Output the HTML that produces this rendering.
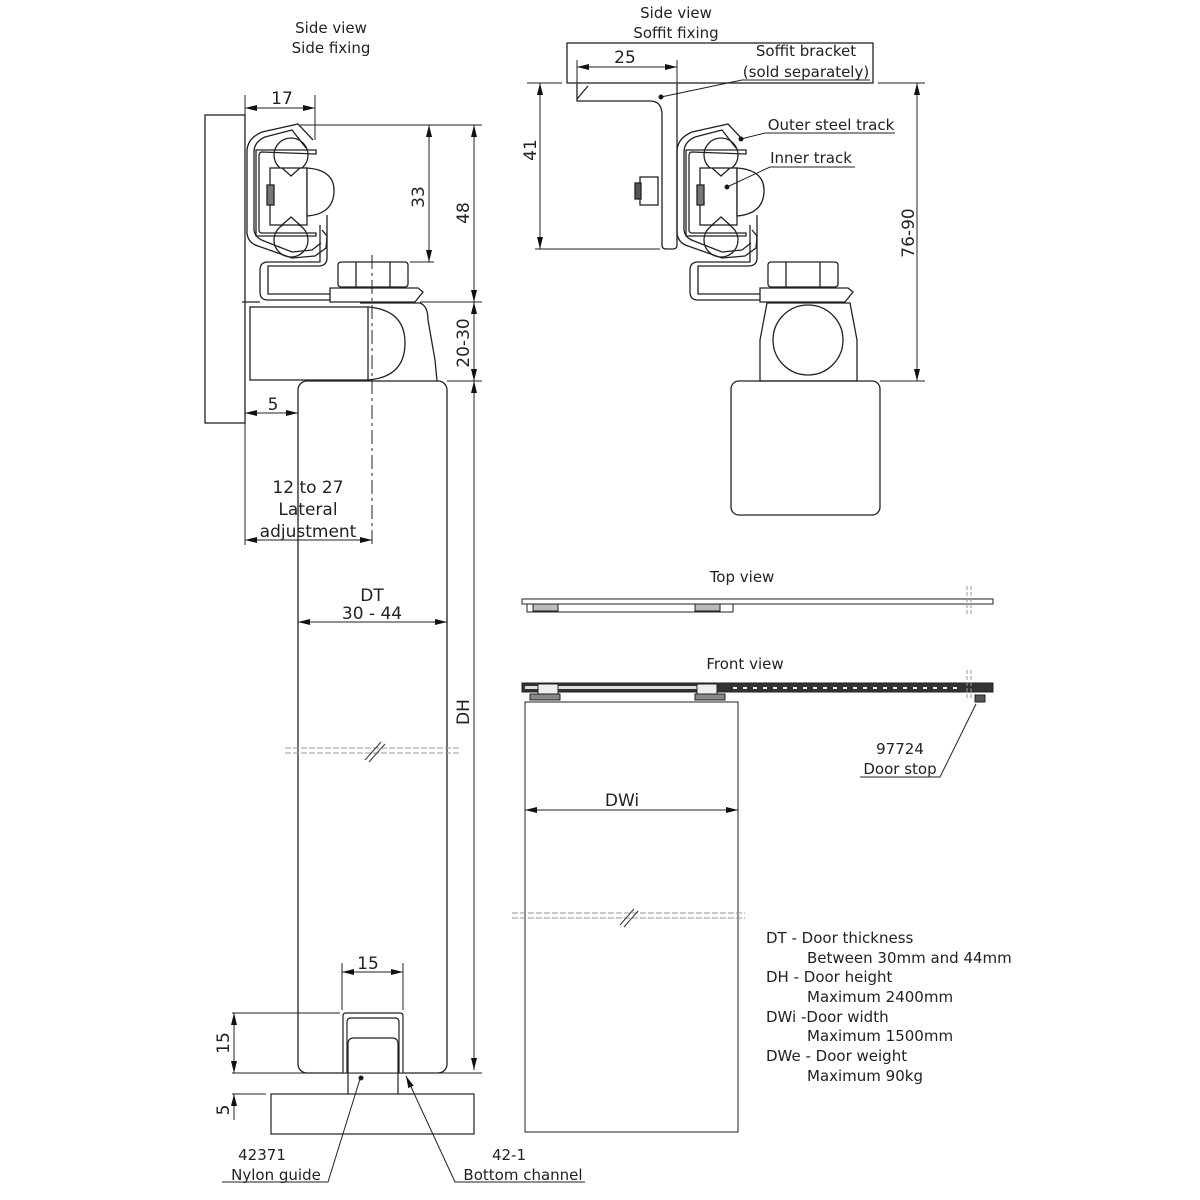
<!DOCTYPE html>
<html><head><meta charset="utf-8"><style>body{margin:0;background:#fff}svg{display:block}text{font-family:"DejaVu Sans","Liberation Sans",sans-serif;fill:#222}</style></head><body>
<svg width="1200" height="1200" viewBox="0 0 1200 1200" xmlns="http://www.w3.org/2000/svg">
<defs>
<marker id="a" viewBox="0 0 12 6" refX="12" refY="3" markerWidth="12" markerHeight="6" orient="auto-start-reverse" markerUnits="userSpaceOnUse"><path d="M0,0L12,3L0,6z" fill="#111"/></marker>
<g id="trk" fill="none" stroke="#222" stroke-width="1.3">
 <path d="M313,140 L298,124 L262,132 Q248,138 247,150 L247,233 Q248,243 258,246 L292,258 L315,256 L326,248 L327,236 L322,230"/>
 <path d="M306,148 L292,130 L265,137 Q254,142 254,152 L254,230 Q255,238 264,241 L292,252 L312,250 L321,243"/>
 <path d="M316,154 L262,152 Q259,152 259,156 L259,230 Q259,233 262,233 L316,233 L316,236 L256,236 L256,150 L316,150 Z"/>
 <circle cx="291" cy="155" r="17"/><circle cx="291" cy="240" r="17"/>
 <rect x="270" y="168" width="37" height="57" fill="#fff"/>
 <path d="M282,168 L291,176 L300,168 M282,225 L291,217 L300,225"/>
 <path d="M307,168 Q335,170 334,192 Q333,214 307,216 Z" fill="#fff"/>
 <rect x="267" y="185" width="7" height="20" fill="#777"/>
 <path d="M327,215 L327,258 Q327,266 318,266 L268,266 L268,294 L418,294 L415,300 L268,300 Q260,300 260,292 L260,270 Q260,262 268,262 L320,262 L320,225"/>
 <rect x="338" y="262" width="70" height="25" rx="3" fill="#fff"/>
 <path d="M356,262 L356,287 M390,262 L390,287"/>
 <path d="M330,288 L418,288 L423,292 L415,302 L330,302 Z" fill="#fff"/>
</g>
</defs>
<g font-size="15" text-anchor="middle">
<text x="331" y="33">Side view</text><text x="331" y="53">Side fixing</text>
<text x="676" y="18">Side view</text><text x="676" y="38">Soffit fixing</text>
</g>
<g fill="none" stroke="#222" stroke-width="1.3">
<rect x="205" y="115" width="40" height="308"/>
<line x1="245" y1="115" x2="245" y2="545" stroke-width="1"/>
<rect x="250" y="307" width="118" height="73"/>
<line x1="242" y1="302" x2="260" y2="302"/>
<path d="M368,307 Q405,310 405,343 Q405,377 368,380"/>
<path d="M360,303 L420,303 Q428,306 428,320 L435,360 L437,381"/>
<rect x="298" y="381" width="149" height="692" rx="9" fill="#fff"/>
</g>
<use href="#trk"/>
<line x1="372" y1="255" x2="372" y2="545" stroke="#222" stroke-width="1" stroke-dasharray="14,4,3,4"/>
<g stroke="#222" stroke-width="1" fill="none">
<line x1="245" y1="95" x2="245" y2="115"/><line x1="315" y1="95" x2="315" y2="140"/>
<line x1="245" y1="108" x2="315" y2="108" marker-start="url(#a)" marker-end="url(#a)"/>
<line x1="300" y1="125" x2="482" y2="125"/><line x1="410" y1="262" x2="434" y2="262"/>
<line x1="429" y1="125" x2="429" y2="262" marker-start="url(#a)" marker-end="url(#a)"/>
<line x1="420" y1="302" x2="482" y2="302"/><line x1="447" y1="381" x2="482" y2="381"/>
<line x1="474" y1="125" x2="474" y2="302" marker-start="url(#a)" marker-end="url(#a)"/>
<line x1="474" y1="302" x2="474" y2="381" marker-start="url(#a)" marker-end="url(#a)"/>
<line x1="474" y1="381" x2="474" y2="1070" marker-start="url(#a)" marker-end="url(#a)"/>
<line x1="245" y1="413" x2="298" y2="413" marker-start="url(#a)" marker-end="url(#a)"/>
<line x1="245" y1="540" x2="372" y2="540" marker-start="url(#a)" marker-end="url(#a)"/>
<line x1="298" y1="622" x2="447" y2="622" marker-start="url(#a)" marker-end="url(#a)"/>
<path d="M285,748H460M285,753H460" stroke="#999" stroke-dasharray="6,2"/>
<path d="M365,760L381,742M369,762L385,744" stroke="#333"/>
</g>
<g font-size="17" text-anchor="middle">
<text x="282" y="104">17</text><text x="273" y="410">5</text>
<text transform="translate(424,197) rotate(-90)">33</text>
<text transform="translate(469,213) rotate(-90)">48</text>
<text transform="translate(469,343) rotate(-90)">20-30</text>
<text transform="translate(469,712) rotate(-90)">DH</text>
<text x="308" y="493">12 to 27</text><text x="308" y="515">Lateral</text><text x="308" y="537">adjustment</text>
<text x="372" y="601">DT</text><text x="372" y="619">30 - 44</text>
<text x="368" y="969">15</text>
<text transform="translate(229,1043) rotate(-90)">15</text>
<text transform="translate(229,1110) rotate(-90)">5</text>
</g>
<g stroke="#222" stroke-width="1.2" fill="none">
<path d="M343,1073 L343,1016 Q343,1013 346,1013 L400,1013 Q403,1013 403,1016 L403,1073" fill="#fff"/>
<path d="M347,1073 L347,1022 Q347,1018 351,1018 L395,1018 Q399,1018 399,1022 L399,1073"/>
<path d="M348,1094 L348,1044 Q348,1038 354,1038 L392,1038 Q398,1038 398,1044 L398,1094"/>
<rect x="271" y="1094" width="203" height="40" fill="#fff"/>
</g>
<g stroke="#222" stroke-width="1" fill="none">
<line x1="342" y1="963" x2="342" y2="1010"/><line x1="403" y1="963" x2="403" y2="1010"/>
<line x1="342" y1="972" x2="403" y2="972" marker-start="url(#a)" marker-end="url(#a)"/>
<line x1="232" y1="1013" x2="340" y2="1013"/><line x1="232" y1="1073" x2="482" y2="1073"/><line x1="232" y1="1094" x2="266" y2="1094"/>
<line x1="234" y1="1013" x2="234" y2="1073" marker-start="url(#a)" marker-end="url(#a)"/>
<line x1="234" y1="1094" x2="234" y2="1120" marker-start="url(#a)"/>
<path d="M222,1182H328L360,1079"/><circle cx="361" cy="1078" r="2" fill="#111"/>
<path d="M585,1182H455L406,1076" marker-end="url(#a)"/>
</g>
<g font-size="15" text-anchor="middle">
<text x="262" y="1160">42371</text><text x="276" y="1180">Nylon guide</text>
<text x="509" y="1160">42-1</text><text x="523" y="1180">Bottom channel</text>
</g>
<g fill="none" stroke="#222" stroke-width="1.3">
<rect x="567" y="43" width="306" height="40"/>
<path d="M577,84 L577,101 L650,101 Q662,101 662,115 L662,245 Q662,249 666,249 L673,249 Q677,249 677,245 L677,84"/>
<line x1="577" y1="99" x2="588" y2="86"/>
<rect x="640" y="177" width="18" height="28"/>
<rect x="635" y="183" width="6" height="16" fill="#555"/>
<path d="M767,303 L850,303 L857,340 L857,381 L760,381 L760,340 Z"/>
<circle cx="808" cy="340" r="35"/>
<rect x="731" y="381" width="149" height="134" rx="8"/>
</g>
<use href="#trk" transform="translate(430,0)"/>
<g stroke="#222" stroke-width="1" fill="none">
<line x1="527" y1="83" x2="562" y2="83"/><line x1="878" y1="83" x2="925" y2="83"/>
<line x1="535" y1="249" x2="660" y2="249"/><line x1="880" y1="381" x2="925" y2="381"/>
<line x1="577" y1="60" x2="577" y2="84"/><line x1="677" y1="60" x2="677" y2="84"/>
<line x1="577" y1="67" x2="677" y2="67" marker-start="url(#a)" marker-end="url(#a)"/>
<line x1="540" y1="83" x2="540" y2="249" marker-start="url(#a)" marker-end="url(#a)"/>
<line x1="917" y1="83" x2="917" y2="381" marker-start="url(#a)" marker-end="url(#a)"/>
<path d="M870,80H742L661,97"/><circle cx="661" cy="97" r="2" fill="#111"/>
<path d="M895,133H765L741,139"/><circle cx="741" cy="139" r="2" fill="#111"/>
<path d="M855,167H770L727,187"/><circle cx="727" cy="187" r="2" fill="#111"/>
</g>
<g font-size="15" text-anchor="middle">
<text x="625" y="63" font-size="17">25</text>
<text transform="translate(536,150) rotate(-90)" font-size="17">41</text>
<text transform="translate(914,233) rotate(-90)" font-size="17">76-90</text>
<text x="806" y="56">Soffit bracket</text><text x="806" y="77">(sold separately)</text>
<text x="831" y="130">Outer steel track</text><text x="811" y="163">Inner track</text>
</g>
<text x="742" y="582" font-size="15" text-anchor="middle">Top view</text>
<g stroke="#222" stroke-width="1" fill="none">
<rect x="522" y="599" width="471" height="5"/>
<rect x="527" y="604" width="206" height="8"/>
<rect x="533" y="604" width="25" height="7" fill="#bbb"/><rect x="695" y="604" width="25" height="7" fill="#bbb"/>
<path d="M967,586V616M971,586V616" stroke="#999" stroke-dasharray="4,2"/>
</g>
<text x="745" y="669" font-size="15" text-anchor="middle">Front view</text>
<g stroke="#222" stroke-width="1" fill="none">
<rect x="522" y="683" width="471" height="9" fill="#333"/>
<rect x="525" y="686" width="190" height="3" fill="#ddd" stroke="none"/>
<path d="M733,688H963" stroke="#eee" stroke-width="2" stroke-dasharray="4,6"/>
<rect x="538" y="684" width="20" height="10" fill="#eee"/><rect x="697" y="684" width="20" height="10" fill="#eee"/>
<rect x="530" y="694" width="30" height="6" fill="#888"/><rect x="695" y="694" width="30" height="6" fill="#888"/>
<rect x="525" y="702" width="213" height="430"/>
<path d="M967,670V700M971,670V700" stroke="#999" stroke-dasharray="4,2"/>
<rect x="975" y="695" width="10" height="7" fill="#555"/>
<line x1="525" y1="810" x2="738" y2="810" marker-start="url(#a)" marker-end="url(#a)"/>
<path d="M512,913H745M512,918H745" stroke="#999" stroke-dasharray="6,2"/>
<path d="M620,925L634,909M624,927L638,911" stroke="#333"/>
<path d="M860,777H940L976,704"/>
</g>
<g font-size="15" text-anchor="middle">
<text x="622" y="806" font-size="17">DWi</text>
<text x="900" y="754">97724</text><text x="900" y="774">Door stop</text>
</g>
<g font-size="15">
<text x="766" y="943">DT - Door thickness</text><text x="807" y="963">Between 30mm and 44mm</text>
<text x="766" y="982">DH - Door height</text><text x="807" y="1002">Maximum 2400mm</text>
<text x="766" y="1022">DWi -Door width</text><text x="807" y="1041">Maximum 1500mm</text>
<text x="766" y="1061">DWe - Door weight</text><text x="807" y="1081">Maximum 90kg</text>
</g>
</svg>
</body></html>
